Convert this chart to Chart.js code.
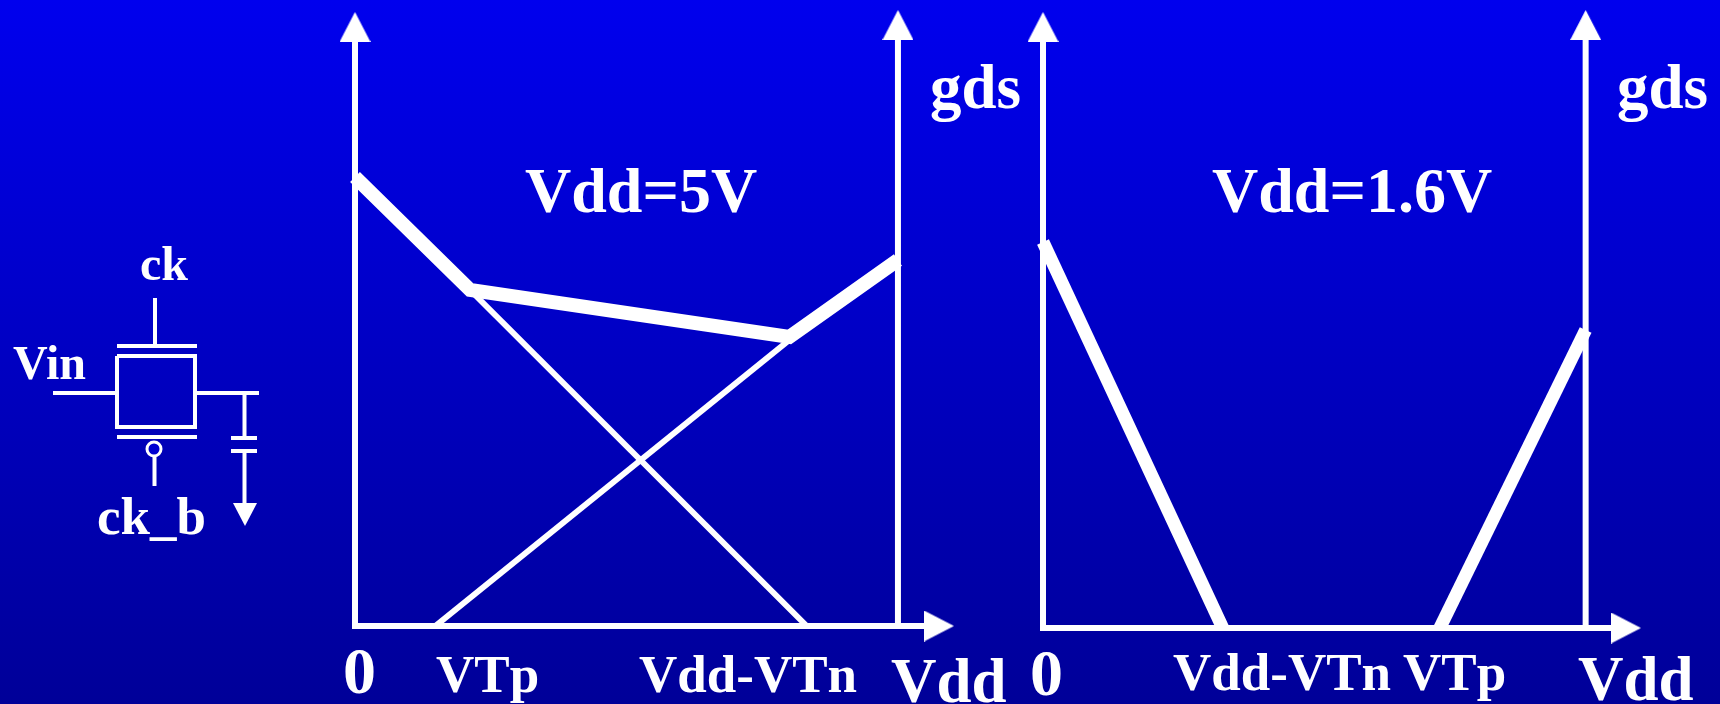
<!DOCTYPE html>
<html>
<head>
<meta charset="utf-8">
<title>gds vs Vdd</title>
<script src="https://cdn.jsdelivr.net/npm/chart.js@4"></script>
<style>
  html, body { margin: 0; padding: 0; width: 1720px; height: 704px; overflow: hidden; }
  body { background: linear-gradient(to bottom, #0000ee, #000098); }
  canvas { position: absolute; left: 0; top: 0; }
</style>
</head>
<body>
<canvas id="circuit" width="1720" height="704"></canvas>
<canvas id="plot5v" width="1720" height="704"></canvas>
<canvas id="plot16v" width="1720" height="704"></canvas>
<script>
// Vdd = 5V, gds in arbitrary units
const hi5Vdd = [0, 1.06, 4.0, 5];
const hi5Gds = [4.49, 3.36, 2.89, 3.66];
const n5Vdd = [1.06, 4.16];
const n5Gds = [3.36, 0];
const p5Vdd = [0.74, 4.0];
const p5Gds = [0, 2.86];
const rail5Vdd = [5, 5];
const rail5Gds = [0, 5.9];

// Vdd = 1.6V
const n16Vdd = [0, 0.53];
const n16Gds = [3.86, 0];
const p16Vdd = [1.17, 1.6];
const p16Gds = [0, 2.98];
const rail16Vdd = [1.6, 1.6];
const rail16Gds = [0, 5.9];

const labels5 = ["0", "VTp", "Vdd-VTn", "Vdd", "gds", "Vdd=5V"];
const labels16 = ["0", "Vdd-VTn", "VTp", "Vdd", "gds", "Vdd=1.6V"];
const circuitLabels = ["ck", "Vin", "ck_b"];

// transmission gate schematic
const wires = [
  [[117, 126], [195, 126], [195, 197], [117, 197], [117, 126]],
  [[117, 116], [197, 116]],
  [[155, 68], [155, 116]],
  [[117, 207], [197, 207]],
  [[154.5, 227], [154.5, 256]],
  [[53, 163], [117, 163]],
  [[195, 163], [259, 163]],
  [[244.5, 163], [244.5, 208]],
  [[231, 208], [257, 208]],
  [[231, 221], [257, 221]],
  [[244.5, 221], [244.5, 273]]
];
const bubble = [[154, 219]];
const groundArrow = [[245, 284.5]];

const white = "#ffffff";
const serif = '"Liberation Serif", "Times New Roman", serif';

function pts(xs, ys) {
  return xs.map((x, i) => ({ x: x, y: ys[i] }));
}

function arrowHead(w, h) {
  const c = document.createElement("canvas");
  c.width = w;
  c.height = h;
  const ctx = c.getContext("2d");
  ctx.fillStyle = white;
  ctx.beginPath();
  ctx.moveTo(w / 2, 0);
  ctx.lineTo(w, h);
  ctx.lineTo(0, h);
  ctx.closePath();
  ctx.fill();
  return c;
}

const textPlugin = {
  id: "slideText",
  afterDatasetsDraw(chart, args, opts) {
    const ctx = chart.ctx;
    ctx.save();
    ctx.fillStyle = white;
    ctx.textAlign = "left";
    ctx.textBaseline = "alphabetic";
    opts.items.forEach((item, i) => {
      ctx.font = "bold " + item[2] + "px " + serif;
      ctx.fillText(opts.text[i], item[0], item[1]);
    });
    ctx.restore();
  }
};

function line(data, width) {
  return {
    data: data,
    showLine: true,
    borderColor: white,
    borderWidth: width,
    borderCapStyle: "butt",
    borderJoinStyle: "miter",
    pointRadius: 0,
    clip: false
  };
}

function head(x, y, rotation, image) {
  return {
    data: [{ x: x, y: y }],
    showLine: false,
    pointStyle: image,
    rotation: rotation,
    pointRadius: 15,
    clip: false
  };
}

function baseOptions(padding, xScale, yScale, text, items) {
  return {
    responsive: false,
    animation: false,
    events: [],
    layout: { padding: padding, autoPadding: false },
    plugins: {
      legend: { display: false },
      tooltip: { enabled: false },
      slideText: { text: text, items: items }
    },
    scales: { x: xScale, y: yScale }
  };
}

function axis(max) {
  return {
    type: "linear",
    min: 0,
    max: max,
    border: { display: true, color: white, width: 6 },
    grid: { display: false, drawTicks: false },
    ticks: { display: false }
  };
}

const bigArrow = arrowHead(31, 30);

new Chart(document.getElementById("plot5v"), {
  type: "scatter",
  data: {
    datasets: [
      line(pts(hi5Vdd, hi5Gds), 14),
      line(pts(n5Vdd, n5Gds), 6),
      line(pts(p5Vdd, p5Gds), 6),
      line(pts(rail5Vdd, rail5Gds), 6),
      head(0, 5.99, 0, bigArrow),
      head(5, 6.01, 0, bigArrow),
      head(5.378, 0, 90, bigArrow)
    ]
  },
  options: baseOptions(
    { left: 355, right: 781, top: 27, bottom: 78 },
    axis(5.378), axis(5.99), labels5,
    [[343, 693, 66], [436, 692, 53], [639, 692, 53], [891, 702, 63], [930, 108, 63], [525, 212, 64]]
  ),
  plugins: [textPlugin]
});

new Chart(document.getElementById("plot16v"), {
  type: "scatter",
  data: {
    datasets: [
      line(pts(n16Vdd, n16Gds), 13),
      line(pts(p16Vdd, p16Gds), 13),
      line(pts(rail16Vdd, rail16Gds), 6),
      head(0, 6.01, 0, bigArrow),
      head(1.6, 6.03, 0, bigArrow),
      head(1.719, 0, 90, bigArrow)
    ]
  },
  options: baseOptions(
    { left: 1043, right: 94, top: 27, bottom: 76 },
    axis(1.719), axis(6.01), labels16,
    [[1030, 695, 66], [1173, 690, 53], [1403, 690, 53], [1578, 700, 63], [1617, 108, 63], [1212, 212, 64]]
  ),
  plugins: [textPlugin]
});

const hiddenX = { type: "linear", display: false, min: 0, max: 300, grid: { drawTicks: false } };
const hiddenY = { type: "linear", display: false, min: 0, max: 320, reverse: true, grid: { drawTicks: false } };

new Chart(document.getElementById("circuit"), {
  type: "scatter",
  data: {
    datasets: [
      {
        data: bubble.map(p => ({ x: p[0], y: p[1] })),
        pointStyle: "circle",
        pointRadius: 7,
        pointBackgroundColor: "#0000d0",
        pointBorderColor: white,
        pointBorderWidth: 3,
        clip: false
      },
      {
        data: groundArrow.map(p => ({ x: p[0], y: p[1] })),
        pointStyle: arrowHead(24, 23),
        rotation: 180,
        pointRadius: 12,
        clip: false
      }
    ].concat(wires.map(w => line(w.map(p => ({ x: p[0], y: p[1] })), 4)))
  },
  options: baseOptions(
    { left: 0, right: 1420, top: 230, bottom: 154 },
    hiddenX, hiddenY, circuitLabels,
    [[140, 280, 48], [13, 379, 48], [97, 534, 53]]
  ),
  plugins: [textPlugin]
});
</script>
</body>
</html>
